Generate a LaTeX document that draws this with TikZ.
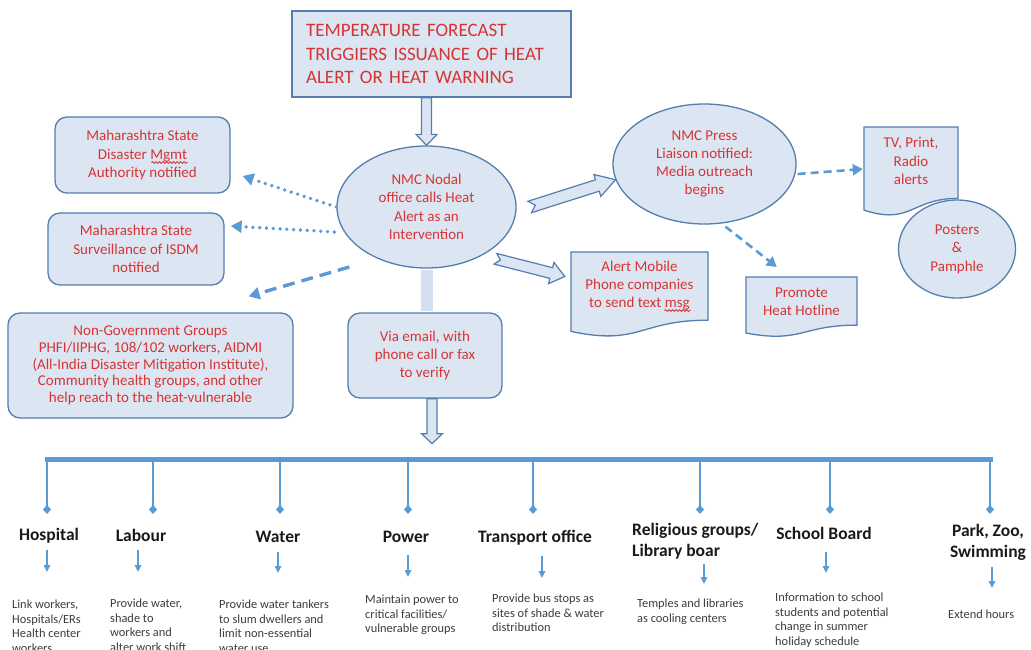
\documentclass[tikz,border=0pt]{standalone}
\usepackage{fontspec}
\setmainfont{Carlito}
\usetikzlibrary{shapes.geometric,arrows.meta,calc,decorations.pathmorphing}

\definecolor{boxfill}{RGB}{220,230,242}
\definecolor{bord}{RGB}{84,125,176}
\definecolor{txtred}{RGB}{214,52,52}
\definecolor{busblue}{RGB}{91,155,213}
\definecolor{barfill}{RGB}{212,224,241}
\definecolor{headtext}{RGB}{25,25,25}
\definecolor{desctext}{RGB}{60,60,60}

\newcommand{\fsz}[2]{\fontsize{#1}{#2}\selectfont}

% flowchart "document" outline: name, x1, y1, x2, height, text y, text
\newcommand{\docnode}[7]{%
  \filldraw[docline] (#2,#3) -- (#4,#3) -- (#4,{#3+0.802*#5})
    .. controls ({(#2+#4)/2},{#3+0.802*#5}) and ({(#2+#4)/2},{#3+1.107*#5}) .. (#2,{#3+0.934*#5}) -- cycle;
  \node[doctext, minimum width={#4-#2}] (#1) at ({(#2+#4)/2},#6) {#7};}

% outlined block arrow: tail, tip, half shaft, half head, head length, tail notch
\newcommand{\blockarrow}[6]{%
  \filldraw[hollow]
    ($(#1)!#3!90:(#2)$) --
    ($(#2)!#5!(#1)!#3!-90:(#1)$) --
    ($(#2)!#5!(#1)!#4!-90:(#1)$) --
    (#2) --
    ($(#2)!#5!(#1)!#4!90:(#1)$) --
    ($(#2)!#5!(#1)!#3!90:(#1)$) --
    ($(#1)!#3!-90:(#2)$) --
    ($(#1)!#6!(#2)$) -- cycle;}

\tikzset{
  blk/.style={draw=bord, fill=boxfill, line width=1.3pt, text=txtred,
    font=\fsz{15}{18.2}, align=center, inner sep=0pt},
  rbox/.style={blk, rectangle, rounded corners=12pt},
  ebox/.style={blk, ellipse},
  docline/.style={draw=bord, fill=boxfill, line width=1.3pt},
  doctext/.style={text=txtred, font=\fsz{15}{18.2}, align=center, inner sep=0pt},
  hollow/.style={draw=bord, fill=boxfill, line width=1.2pt, line join=miter},
  dotarrow/.style={draw=busblue, line width=3.8pt, line cap=round,
    dash pattern=on 0pt off 6.8pt, -{Triangle[length=11pt,width=12pt]}},
  dasharrowL/.style={draw=busblue, line width=3.4pt,
    dash pattern=on 12pt off 7pt, -{Triangle[length=11pt,width=12pt]}},
  dasharrowR/.style={draw=busblue, line width=2.6pt,
    dash pattern=on 8pt off 5pt, -{Triangle[length=10pt,width=11pt]}},
  squiggle/.style={draw=txtred, line width=0.8pt, decorate,
    decoration={snake, amplitude=1pt, segment length=3.5pt}},
  busline/.style={draw=busblue, line width=5pt},
  dropline/.style={draw=busblue, line width=2.8pt, -{Diamond[length=9pt,width=8pt]}},
  smallarrow/.style={draw=busblue, line width=1.6pt, -{Triangle[length=7pt,width=6.5pt]}},
  head/.style={font=\bfseries\fsz{17.5}{21}, text=headtext, inner sep=0pt},
  desc/.style={font=\fsz{12.4}{14.5}, text=desctext, align=left, anchor=north west, inner sep=0pt},
}

\begin{document}
\begin{tikzpicture}[x=1pt,y=-1pt]
\useasboundingbox (0,0) rectangle (1031,649);
\clip (0,0) rectangle (1031,649);

% ---- upper part ----
\node[blk, rectangle, minimum width=279pt, minimum height=86pt, text width=251pt,
  align=left, font=\fsz{19}{23.5}] (trigger) at (431.5,54)
  {TEMPERATURE FORECAST\\TRIGGIERS ISSUANCE OF HEAT\\ALERT OR HEAT WARNING};

\node[ebox, minimum width=179pt, minimum height=122pt, font=\fsz{15}{18.5}] (nodal) at (426.5,207)
  {NMC Nodal\\office calls Heat\\Alert as an\\Intervention};

\node[ebox, minimum width=183pt, minimum height=120pt, font=\fsz{15}{18}] (press) at (704.5,164)
  {NMC Press\\Liaison notified:\\Media outreach\\begins};

\node[ebox, minimum width=117pt, minimum height=98pt, font=\fsz{15}{18.5}] (posters) at (957,249)
  {Posters\\\&\\Pamphle};

\node[rbox, minimum width=175pt, minimum height=76pt] (msdma) at (142.5,155)
  {Maharashtra State\\Disaster Mgmt\\Authority notified};

\node[rbox, minimum width=176pt, minimum height=72pt] (surv) at (136,249)
  {Maharashtra State\\Surveillance of ISDM\\notified};

\node[rbox, minimum width=285pt, minimum height=105pt, font=\fsz{15}{16.8}] (ngo) at (150.5,365.5)
  {Non-Government Groups\\PHFI/IIPHG, 108/102 workers, AIDMI\\(All-India Disaster Mitigation Institute),\\Community health groups, and other\\help reach to the heat-vulnerable};

\node[rbox, minimum width=154pt, minimum height=85pt] (email) at (425,355.5)
  {Via email, with\\phone call or fax\\to verify};

\docnode{alert}{571}{252}{708}{85}{285.5}{Alert Mobile\\Phone companies\\to send text msg}
\docnode{promote}{746}{277}{857}{60}{302}{Promote\\Heat Hotline}
\docnode{tv}{864}{127}{958}{89}{161}{TV, Print,\\Radio\\alerts}

% spell-check marks under two words
\draw[squiggle] ($(msdma.center)+(9,7.5)$) -- ($(msdma.center)+(45,7.5)$);
\draw[squiggle] ($(alert.center)+(25,25)$) -- ($(alert.center)+(51,25)$);

% light band from the nodal office down to the e-mail box
\draw[line width=12pt, draw=barfill, shorten <=1pt, shorten >=1pt]
  (nodal.south) -- (nodal.south |- email.north);

% block arrows
\coordinate (a1s) at (nodal.north |- trigger.south);
\blockarrow{a1s}{nodal.north}{5pt}{10.5pt}{11pt}{0pt}
\coordinate (a2s) at ($(nodal.east)+(13,0)$);
\blockarrow{a2s}{press.190}{6pt}{11.5pt}{19pt}{6pt}
\coordinate (a3s) at ($(nodal.-40)+(12,4)$);
\coordinate (a3e) at ($(alert.west)+(-6,-9)$);
\blockarrow{a3s}{a3e}{5.5pt}{11pt}{14pt}{5pt}
\coordinate (a4s) at ($(email.south)+(7,0)$);
\coordinate (hub) at ($(email.south)+(7,45)$);
\blockarrow{a4s}{hub}{5pt}{10.5pt}{10pt}{0pt}

% notification arrows
\draw[dotarrow] (nodal.west) -- ($(msdma.east)+(12,21)$);
\draw[dotarrow] ($(nodal.west)+(-2,25)$) -- ($(surv.east)+(6,-23)$);
\draw[dasharrowL] ($(nodal.west)+(13,60)$) -- ($(ngo.north east)+(-45,-16)$);
\draw[dasharrowR] ($(press.east)+(1,10)$) -- ($(tv.west)+(-1,8)$);
\draw[dasharrowR] ($(press.south)+(21,2)$) -- ($(promote.west)+(31,-35)$);

% ---- distribution bus ----
\coordinate (busL) at (47,459);
\coordinate (busR) at (990,459);
\draw[busline, line cap=rect] (busL) -- (busR);
\foreach \n/\x in {1/47,2/153,3/280,4/408,5/533,6/700,7/830,8/990} {
  \coordinate (d\n) at (\x,514);
  \draw[dropline] (busL -| d\n) -- (d\n);
}

% departments
\node[head] (hosp) at (49,536) {Hospital};
\node[head] (labour) at (141,535) {Labour};
\node[head] (water) at (278,537) {Water};
\node[head] (power) at (406,537) {Power};
\node[head] (transport) at (535,538) {Transport office};
\node[head, align=left, anchor=west, font=\bfseries\fsz{17.5}{20.5}] (relig) at (632,541)
  {Religious groups/\\Library boar};
\node[head] (school) at (824,533) {School Board};
\node[head, align=center, font=\bfseries\fsz{17.5}{21}] (park) at (988,542.5)
  {Park, Zoo,\\Swimming};

\foreach \n/\x/\ya/\yb in {1/47/550/572, 2/138/550/572, 3/278/552/573, 4/408/555/577,
    5/542/556/578, 6/704/564/584, 7/826/552/573, 8/992/567/588} {
  \coordinate (s\n) at (\x,\ya);
  \coordinate (t\n) at (\x,\yb);
  \draw[smallarrow] (s\n) -- (t\n);
}

% actions
\node[desc] (hospd) at (12,600) {Link workers,\\Hospitals/ERs\\Health center\\workers};
\node[desc] (labourd) at (110,599) {Provide water,\\shade to\\workers and\\alter work shift};
\node[desc] (waterd) at (219,600) {Provide water tankers\\to slum dwellers and\\limit non-essential\\water use};
\node[desc] (powerd) at (365,595) {Maintain power to\\critical facilities/\\vulnerable groups};
\node[desc] (transportd) at (492,594) {Provide bus stops as\\sites of shade \& water\\distribution};
\node[desc] (religd) at (637,599) {Temples and libraries\\as cooling centers};
\node[desc] (schoold) at (775,593) {Information to school\\students and potential\\change in summer\\holiday schedule};
\node[desc] (parkd) at (948,610) {Extend hours};
\end{tikzpicture}
\end{document}
